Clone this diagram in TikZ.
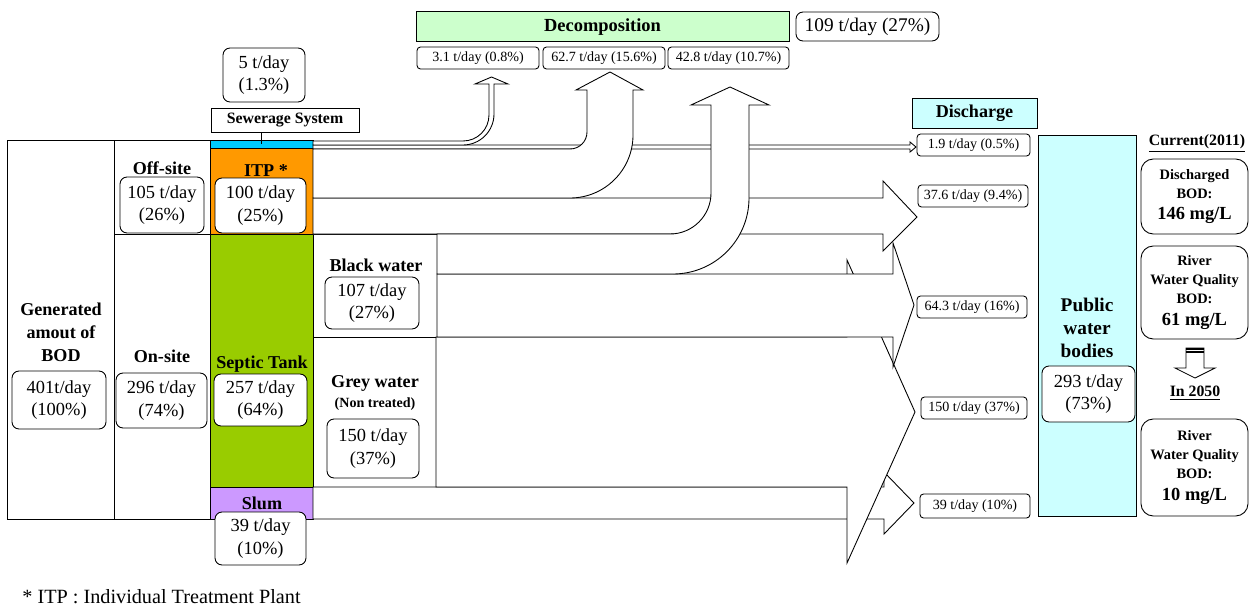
\documentclass[tikz,border=0pt]{standalone}
\usepackage{fontspec}
\setmainfont{Liberation Serif}
\definecolor{decomp}{HTML}{CCFFCC}
\definecolor{water}{HTML}{CCFFFF}
\definecolor{sewblue}{HTML}{00CCFF}
\definecolor{itporange}{HTML}{FF9900}
\definecolor{septgreen}{HTML}{99CC00}
\definecolor{slumpurple}{HTML}{CC99FF}

\begin{document}
\begin{tikzpicture}[x=0.02cm, y=-0.02cm, line width=0.5pt,
	hd/.style={font=\bfseries\fontsize{10.3}{13}\selectfont, align=center, inner sep=0pt},
	val/.style={draw, fill=white, rounded corners=4pt, align=center, inner sep=0pt, font=\fontsize{10.5}{13}\selectfont},
	sval/.style={draw, fill=white, rounded corners=2pt, inner sep=0pt, minimum height=0.44cm, font=\fontsize{8}{10}\selectfont},
	qual/.style={draw, fill=white, rounded corners=7pt, align=center, inner sep=0pt, minimum width=2.14cm, font=\bfseries\fontsize{8.2}{10.8}\selectfont},
	flow/.style={draw, fill=white, line join=miter}]
	\useasboundingbox (0,0) rectangle (1250,608);

	\draw (7,140) rectangle (114,519);
	\draw (114,140) rectangle (210,234);
	\draw (114,234) rectangle (210,519);
	\draw[fill=itporange] (210,148) rectangle (313,234);
	\draw[fill=septgreen] (210,234) rectangle (313,487);
	\draw[fill=slumpurple] (210,487) rectangle (313,519);
	\draw (313,234) rectangle (437,337);
	\draw (313,337) rectangle (436,487);
	\node[draw, fill=sewblue, minimum width=2.06cm, minimum height=0.16cm, inner sep=0pt] (sewbar) at (261.5,144) {};

	\draw[flow] (313,487) -- (884,487) -- (884,472) -- (914,503) -- (884,534) -- (884,519) -- (313,519) -- cycle;
	\draw[flow] (436,337) -- (847,337) -- (847,260) -- (915,412) -- (847,563) -- (847,487) -- (436,487) -- cycle;
	\draw[flow] (437,274) -- (893,274) -- (893,243) -- (914,305) -- (893,367) -- (893,337) -- (437,337) -- cycle;
	\draw[flow] (313,198) -- (883,198) -- (883,181) -- (917,217) -- (883,251) -- (883,234) -- (313,234) -- cycle;
	\draw[flow] (313,145) -- (910,145) -- (910,142) -- (916,147) -- (910,152) -- (910,149) -- (313,149) -- cycle;
	\draw[flow] (313,141) -- (463,141) .. controls (477.4,141) and (489,129.4) .. (489,115) -- (489,84)
		-- (475,84) -- (491.5,77) -- (508,84) -- (494,84) -- (494,114)
		.. controls (494,131.1) and (480.1,145) .. (463,145) -- (313,145) -- cycle;
	\draw[flow] (313,149) -- (570,149) .. controls (579.4,149) and (587,141.4) .. (587,132) -- (587,90)
		-- (576,90) -- (610,72) -- (643,90) -- (633,90) -- (633,135)
		.. controls (633,169.8) and (604.8,198) .. (570,198) -- (313,198) -- cycle;
	\draw[flow] (437,234) -- (670,234) .. controls (692.6,234) and (711,215.6) .. (711,193) -- (711,105)
		-- (691,105) -- (730,87) -- (769,105) -- (749,105) -- (749,198)
		.. controls (749,240) and (715,274) .. (673,274) -- (437,274) -- cycle;

	\node[hd] (genlbl) at (61,332) {Generated\\amout of\\BOD};
	\node[val, minimum width=1.88cm, minimum height=1.16cm] (gen) at (59,400) {401t/day\\(100\%)};
	\node[hd] (offlbl) at (162,168) {Off-site};
	\node[val, minimum width=1.68cm, minimum height=1.12cm] (off) at (162,205) {105 t/day\\(26\%)};
	\node[hd] (onlbl) at (162,356) {On-site};
	\node[val, minimum width=1.82cm, minimum height=1.1cm] (on) at (161.5,400.5) {296 t/day\\(74\%)};
	\node[hd] (itplbl) at (266,171) {ITP *};
	\node[val, minimum width=1.82cm, minimum height=1.1cm] (itp) at (260.5,205.5) {100 t/day\\(25\%)};
	\node[hd] (septlbl) at (262,364) {Septic Tank};
	\node[val, minimum width=1.86cm, minimum height=1.04cm] (sept) at (260.5,400) {257 t/day\\(64\%)};
	\node[hd] (slumlbl) at (262,503) {Slum};
	\node[val, minimum width=1.82cm, minimum height=1.06cm] (slum) at (260.5,538.5) {39 t/day\\(10\%)};
	\node[draw, inner sep=0pt, minimum width=2.96cm, minimum height=0.48cm, font=\bfseries\fontsize{9}{11}\selectfont] (sewlbl) at (285,120) {Sewerage System};
	\node[val, minimum width=1.64cm, minimum height=1.08cm] (sew) at (264,75) {5 t/day\\(1.3\%)};
	\draw (sewlbl.south -| sewbar.center) -- (sewbar.center);
	\node[hd] (bwlbl) at (376,265) {Black water};
	\node[val, minimum width=1.88cm, minimum height=1.04cm] (bw) at (372,303) {107 t/day\\(27\%)};
	\node[hd] (gwlbl) at (375,383) {Grey water};
	\node[hd, font=\bfseries\fontsize{8}{10}\selectfont] (gwnote) at (375,404) {(Non treated)};
	\node[val, minimum width=1.84cm, minimum height=1.18cm] (gw) at (373,448.5) {150 t/day\\(37\%)};

	\node[draw, fill=decomp, inner sep=0pt, minimum width=7.46cm, minimum height=0.6cm, font=\bfseries\fontsize{10.5}{12}\selectfont] (dec) at (602.5,26.7) {Decomposition};
	\node[val, minimum width=2.86cm, minimum height=0.58cm, font=\fontsize{11}{13}\selectfont] (dectot) at (867.5,26.5) {109 t/day (27\%)};
	\node[sval, minimum width=2.44cm] (d1) at (478,58) {3.1 t/day (0.8\%)};
	\node[sval, minimum width=2.44cm] (d2) at (604,58) {62.7 t/day (15.6\%)};
	\node[sval, minimum width=2.42cm] (d3) at (728.5,58) {42.8 t/day (10.7\%)};

	\node[draw, fill=water, inner sep=0pt, minimum width=2.5cm, minimum height=0.6cm, font=\bfseries\fontsize{10.3}{12}\selectfont] (dis) at (974.5,113) {Discharge};
	\node[sval, minimum width=2.26cm] (q1) at (973.5,145) {1.9 t/day (0.5\%)};
	\node[sval, minimum width=2.2cm] (q2) at (973,196) {37.6 t/day (9.4\%)};
	\node[sval, minimum width=2.2cm] (q3) at (972,307) {64.3 t/day (16\%)};
	\node[sval, minimum width=2.12cm] (q4) at (974,408) {150 t/day (37\%)};
	\node[sval, minimum width=2.2cm, minimum height=0.48cm] (q5) at (975,506) {39 t/day (10\%)};

	\node[draw, fill=water, minimum width=1.96cm, minimum height=7.62cm] (pub) at (1087,325.5) {};
	\node[hd, font=\bfseries\fontsize{11}{13}\selectfont] (publbl) at (1087,328) {Public\\water\\bodies};
	\node[val, minimum width=1.86cm, minimum height=1.12cm] (pubval) at (1088.5,394) {293 t/day\\(73\%)};

	\node[hd, font=\bfseries\fontsize{9}{11}\selectfont] (cur) at (1197,143) {\underline{Current(2011)}};
	\node[qual, minimum height=1.5cm] (bod146) at (1194.5,196.5) {Discharged\\BOD:\\[1.5pt]{\fontsize{10.5}{13}\selectfont 146 mg/L}};
	\node[qual, minimum height=1.86cm] (bod61) at (1194.5,292.5) {River\\Water Quality\\BOD:\\[2pt]{\fontsize{10.5}{13}\selectfont 61 mg/L}};
	\draw[flow] (1186,348) -- (1204,348) -- (1204,368) -- (1215,368) -- (1195,378) -- (1175,368) -- (1186,368) -- cycle;
	\draw[line width=1.2pt] (1186,349) -- (1204,349);
	\draw[line width=1pt] (1186,352) -- (1204,352);
	\node[hd, font=\bfseries\fontsize{9}{11}\selectfont] (y2050) at (1195,393) {\underline{In 2050}};
	\node[qual, minimum height=1.94cm] (bod10) at (1194.5,467.5) {River\\Water Quality\\BOD:\\[2pt]{\fontsize{10.5}{13}\selectfont 10 mg/L}};

	\node[anchor=base west, inner sep=0pt, font=\fontsize{11.5}{13}\selectfont] (note) at (22,603) {* ITP : Individual Treatment Plant};
\end{tikzpicture}
\end{document}
